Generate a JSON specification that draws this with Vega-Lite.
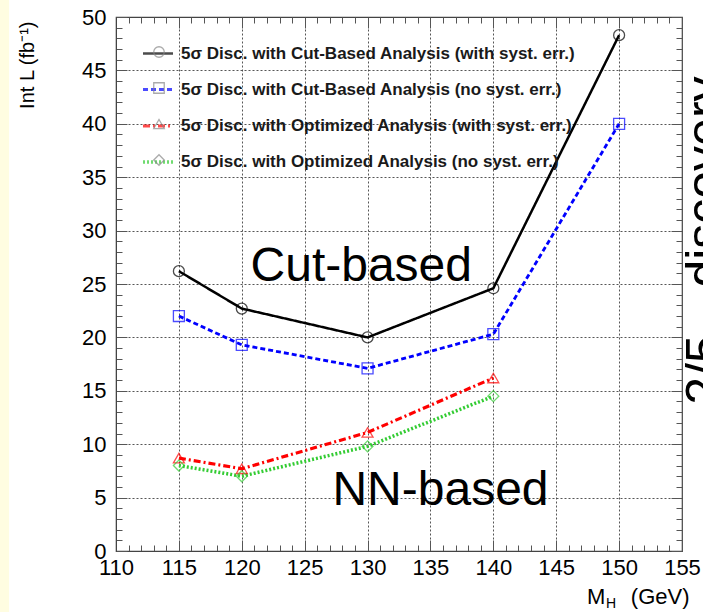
{
  "$schema": "https://vega.github.io/schema/vega-lite/v6.json",
  "width": 566,
  "height": 534,
  "autosize": {"type": "none"},
  "padding": {"left": 116, "top": 17, "right": 21, "bottom": 61},
  "background": "white",
  "config": {"view": {"stroke": "#444444", "strokeWidth": 1.2}, "font": "Liberation Sans"},
  "data": {
    "values": [
      {"mh": 115, "lumi": 26.2, "key": "a"},
      {"mh": 120, "lumi": 22.7, "key": "a"},
      {"mh": 130, "lumi": 20.0, "key": "a"},
      {"mh": 140, "lumi": 24.6, "key": "a"},
      {"mh": 150, "lumi": 48.3, "key": "a"},
      {"mh": 115, "lumi": 22.0, "key": "b"},
      {"mh": 120, "lumi": 19.3, "key": "b"},
      {"mh": 130, "lumi": 17.1, "key": "b"},
      {"mh": 140, "lumi": 20.3, "key": "b"},
      {"mh": 150, "lumi": 40.0, "key": "b"},
      {"mh": 115, "lumi": 8.7, "key": "c"},
      {"mh": 120, "lumi": 7.7, "key": "c"},
      {"mh": 130, "lumi": 11.1, "key": "c"},
      {"mh": 140, "lumi": 16.2, "key": "c"},
      {"mh": 115, "lumi": 8.0, "key": "d"},
      {"mh": 120, "lumi": 7.0, "key": "d"},
      {"mh": 130, "lumi": 9.8, "key": "d"},
      {"mh": 140, "lumi": 14.5, "key": "d"}
    ]
  },
  "layer": [
    {
      "data": {"values": [{}]},
      "mark": {"type": "rect", "color": "#fffde1", "clip": false},
      "encoding": {
        "x": {"datum": 100.5, "type": "quantitative", "scale": {"domain": [110, 155], "nice": false, "zero": false}, "axis": null},
        "x2": {"datum": 101.5},
        "y": {"datum": 52, "type": "quantitative", "scale": {"domain": [0, 50], "nice": false}, "axis": null},
        "y2": {"datum": -6}
      }
    },
    {
      "mark": {"type": "line"},
      "encoding": {
        "x": {
          "field": "mh", "type": "quantitative",
          "scale": {"domain": [110, 155], "nice": false, "zero": false},
          "axis": {
            "orient": "bottom", "title": null,
            "values": [110,111,112,113,114,115,116,117,118,119,120,121,122,123,124,125,126,127,128,129,130,131,132,133,134,135,136,137,138,139,140,141,142,143,144,145,146,147,148,149,150,151,152,153,154,155],
            "labelExpr": "datum.value % 5 === 0 ? datum.label : ''",
            "labelOverlap": false, "labelFlush": false, "labelBound": false,
            "labelFontSize": 22, "labelColor": "black", "labelFont": "Liberation Sans", "labelPadding": 17,
            "tickSize": {"condition": {"test": "datum.value % 5 === 0", "value": -11}, "value": -6},
            "tickColor": "#555555", "tickWidth": 1,
            "grid": true, "gridDash": [2, 2], "gridColor": "#444444",
            "gridOpacity": {"condition": {"test": "datum.value % 5 === 0 && datum.value > 110 && datum.value < 155", "value": 0.9}, "value": 0},
            "domainColor": "#444444"
          }
        },
        "y": {
          "field": "lumi", "type": "quantitative",
          "scale": {"domain": [0, 50], "nice": false},
          "axis": {
            "orient": "left",
            "values": [0,1,2,3,4,5,6,7,8,9,10,11,12,13,14,15,16,17,18,19,20,21,22,23,24,25,26,27,28,29,30,31,32,33,34,35,36,37,38,39,40,41,42,43,44,45,46,47,48,49,50],
            "labelExpr": "datum.value % 5 === 0 ? datum.label : ''",
            "labelOverlap": false, "labelFlush": false, "labelBound": false,
            "labelFontSize": 22, "labelColor": "black", "labelFont": "Liberation Sans", "labelPadding": 21,
            "tickSize": {"condition": {"test": "datum.value % 5 === 0", "value": -11}, "value": -6},
            "tickColor": "#555555", "tickWidth": 1,
            "grid": true, "gridDash": [2, 2], "gridColor": "#444444",
            "gridOpacity": {"condition": {"test": "datum.value % 5 === 0 && datum.value > 0 && datum.value < 50", "value": 0.9}, "value": 0},
            "domainColor": "#444444",
            "title": "Int L (fb⁻¹)", "titleFontSize": 20, "titleFontWeight": "normal", "titleColor": "black", "titleFont": "Liberation Sans",
            "titleAngle": 270, "titleX": -89, "titleY": 4, "titleAlign": "right", "titleBaseline": "middle"
          }
        },
        "color": {
          "field": "key", "type": "nominal",
          "scale": {"domain": ["a", "b", "c", "d"], "range": ["#000000", "#0000ff", "#ff0000", "#33cc33"]},
          "legend": {
            "orient": "none", "legendX": 25, "legendY": 20, "title": null, "padding": 0,
            "symbolType": "stroke", "symbolSize": 900, "symbolStrokeWidth": 3,
            "labelFontSize": 17, "labelFontWeight": "bold", "labelFont": "Liberation Sans", "labelColor": "#1a1a1a", "labelOffset": 6, "labelLimit": 700,
            "rowPadding": 11,
            "labelExpr": "datum.label == 'a' ? '5σ Disc. with Cut-Based Analysis (with syst. err.)' : datum.label == 'b' ? '5σ Disc. with Cut-Based Analysis (no syst. err.)' : datum.label == 'c' ? '5σ Disc. with Optimized Analysis (with syst. err.)' : '5σ Disc. with Optimized Analysis (no syst. err.)'"
          }
        },
        "strokeDash": {
          "field": "key", "type": "nominal",
          "scale": {"domain": ["a", "b", "c", "d"], "range": [[1, 0], [5, 3], [7, 3, 2, 3], [2, 2]]},
          "legend": {
            "orient": "none", "legendX": 25, "legendY": 20, "title": null, "padding": 0,
            "symbolType": "stroke", "symbolSize": 900, "symbolStrokeWidth": 3,
            "labelFontSize": 17, "labelFontWeight": "bold", "labelFont": "Liberation Sans", "labelColor": "#1a1a1a", "labelOffset": 6, "labelLimit": 700,
            "rowPadding": 11,
            "labelExpr": "datum.label == 'a' ? '5σ Disc. with Cut-Based Analysis (with syst. err.)' : datum.label == 'b' ? '5σ Disc. with Cut-Based Analysis (no syst. err.)' : datum.label == 'c' ? '5σ Disc. with Optimized Analysis (with syst. err.)' : '5σ Disc. with Optimized Analysis (no syst. err.)'"
          }
        },
        "strokeWidth": {
          "field": "key", "type": "ordinal",
          "scale": {"domain": ["a", "b", "c", "d"], "range": [2.5, 3.5, 3, 3]},
          "legend": null
        }
      }
    },
    {
      "mark": {"type": "point", "filled": false, "size": 120, "strokeWidth": 1.3},
      "encoding": {
        "x": {
          "field": "mh", "type": "quantitative",
          "scale": {"domain": [110, 155], "nice": false, "zero": false},
          "axis": {
            "orient": "top", "title": null, "labels": false, "grid": false, "domain": false,
            "values": [110,111,112,113,114,115,116,117,118,119,120,121,122,123,124,125,126,127,128,129,130,131,132,133,134,135,136,137,138,139,140,141,142,143,144,145,146,147,148,149,150,151,152,153,154,155],
            "tickSize": {"condition": {"test": "datum.value % 5 === 0", "value": -11}, "value": -6},
            "tickColor": "#555555", "tickWidth": 1
          }
        },
        "y": {
          "field": "lumi", "type": "quantitative",
          "scale": {"domain": [0, 50], "nice": false},
          "axis": {
            "orient": "right", "title": null, "labels": false, "grid": false, "domain": false,
            "values": [0,1,2,3,4,5,6,7,8,9,10,11,12,13,14,15,16,17,18,19,20,21,22,23,24,25,26,27,28,29,30,31,32,33,34,35,36,37,38,39,40,41,42,43,44,45,46,47,48,49,50],
            "tickSize": {"condition": {"test": "datum.value % 5 === 0", "value": -11}, "value": -6},
            "tickColor": "#555555", "tickWidth": 1
          }
        },
        "color": {"field": "key", "type": "nominal"},
        "shape": {
          "field": "key", "type": "nominal",
          "scale": {"range": ["circle", "square", "triangle-up", "diamond"]},
          "legend": {
            "orient": "none", "legendX": 27, "legendY": 29, "title": null, "padding": 0,
            "symbolSize": 110, "symbolStrokeWidth": 1.3, "symbolFillColor": "transparent", "symbolOffset": 10,
            "labelFontSize": 1, "labelExpr": "''", "labelOffset": 0,
            "rowPadding": 20,
            "encode": {"symbols": {"update": {"stroke": {"scale": "color", "field": "value"}}}}
          }
        }
      }
    },
    {
      "data": {"values": [{}]},
      "mark": {"type": "text", "text": "Cut-based", "fontSize": 48, "font": "Liberation Sans", "align": "center", "baseline": "middle", "color": "black"},
      "encoding": {
        "x": {"datum": 129.5, "type": "quantitative", "scale": {"domain": [110, 155], "nice": false, "zero": false}, "axis": null},
        "y": {"datum": 26.6, "type": "quantitative", "scale": {"domain": [0, 50], "nice": false}, "axis": null}
      }
    },
    {
      "data": {"values": [{}]},
      "mark": {"type": "text", "text": "NN-based", "fontSize": 48, "font": "Liberation Sans", "align": "center", "baseline": "middle", "color": "black"},
      "encoding": {
        "x": {"datum": 135.8, "type": "quantitative", "scale": {"domain": [110, 155], "nice": false, "zero": false}, "axis": null},
        "y": {"datum": 5.6, "type": "quantitative", "scale": {"domain": [0, 50], "nice": false}, "axis": null}
      }
    },
    {
      "data": {"values": [{}]},
      "mark": {"type": "text", "text": "discovery", "fontSize": 50, "font": "Liberation Sans", "angle": 270, "align": "center", "baseline": "alphabetic", "color": "black"},
      "encoding": {
        "x": {"datum": 158.1, "type": "quantitative", "scale": {"domain": [110, 155], "nice": false, "zero": false}, "axis": null},
        "y": {"datum": 34.55, "type": "quantitative", "scale": {"domain": [0, 50], "nice": false}, "axis": null}
      }
    },
    {
      "data": {"values": [{}]},
      "mark": {"type": "text", "text": "2/5", "fontSize": 50, "font": "Liberation Sans", "angle": 270, "align": "center", "baseline": "alphabetic", "color": "black"},
      "encoding": {
        "x": {"datum": 158.1, "type": "quantitative", "scale": {"domain": [110, 155], "nice": false, "zero": false}, "axis": null},
        "y": {"datum": 16.95, "type": "quantitative", "scale": {"domain": [0, 50], "nice": false}, "axis": null}
      }
    },
    {
      "data": {"values": [{}]},
      "mark": {"type": "text", "text": "(GeV)", "fontSize": 22, "font": "Liberation Sans", "align": "right", "baseline": "alphabetic", "color": "black"},
      "encoding": {
        "x": {"datum": 155.6, "type": "quantitative", "scale": {"domain": [110, 155], "nice": false, "zero": false}, "axis": null},
        "y": {"datum": -5.0, "type": "quantitative", "scale": {"domain": [0, 50], "nice": false}, "axis": null}
      }
    },
    {
      "data": {"values": [{}]},
      "mark": {"type": "text", "text": "M", "fontSize": 22, "font": "Liberation Sans", "align": "right", "baseline": "alphabetic", "color": "black"},
      "encoding": {
        "x": {"datum": 148.9, "type": "quantitative", "scale": {"domain": [110, 155], "nice": false, "zero": false}, "axis": null},
        "y": {"datum": -5.0, "type": "quantitative", "scale": {"domain": [0, 50], "nice": false}, "axis": null}
      }
    },
    {
      "data": {"values": [{}]},
      "mark": {"type": "text", "text": "H", "fontSize": 14, "font": "Liberation Sans", "align": "left", "baseline": "alphabetic", "color": "black"},
      "encoding": {
        "x": {"datum": 148.95, "type": "quantitative", "scale": {"domain": [110, 155], "nice": false, "zero": false}, "axis": null},
        "y": {"datum": -5.35, "type": "quantitative", "scale": {"domain": [0, 50], "nice": false}, "axis": null}
      }
    }
  ],
  "resolve": {"axis": {"x": "independent", "y": "independent"}}
}
